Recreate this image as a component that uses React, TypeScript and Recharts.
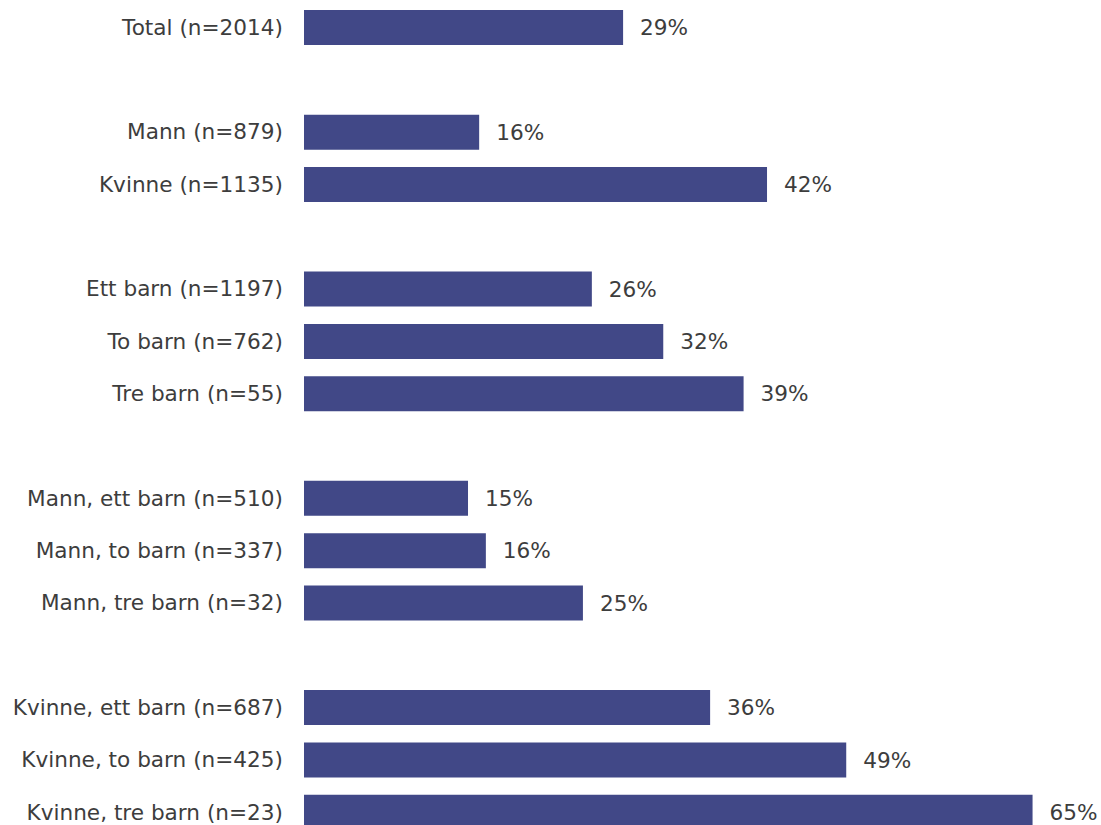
import React from "react";
import { BarChart, Bar, XAxis, YAxis, LabelList } from "recharts";

const categories: string[] = [
  "Total (n=2014)",
  "",
  "Mann (n=879)",
  "Kvinne (n=1135)",
  " ",
  "Ett barn (n=1197)",
  "To barn (n=762)",
  "Tre barn (n=55)",
  "  ",
  "Mann, ett barn (n=510)",
  "Mann, to barn (n=337)",
  "Mann, tre barn (n=32)",
  "   ",
  "Kvinne, ett barn (n=687)",
  "Kvinne, to barn (n=425)",
  "Kvinne, tre barn (n=23)",
];

const values: (number | null)[] = [
  28.6, null, 15.7, 41.5, null, 25.8, 32.2, 39.4, null, 14.7, 16.3, 25.0, null, 36.4, 48.6, 65.3,
];

const labels: string[] = [
  "29%", "", "16%", "42%", "", "26%", "32%", "39%", "", "15%", "16%", "25%", "", "36%", "49%", "65%",
];

const data = categories.map((c, i) => ({ name: c, value: values[i], label: labels[i] }));

const FONT = "'DejaVu Sans', Verdana, sans-serif";
const TEXT = "#3d3d3d";
const BAR = "#414887";

export default function App() {
  return (
    <div style={{ position: "absolute", left: 0, top: 0 }}>
      <BarChart
        width={1101}
        height={838}
        data={data}
        layout="vertical"
        margin={{ top: 1, right: 16, bottom: 0, left: 0 }}
        barSize={35}
      >
        <XAxis type="number" domain={[0, 70]} hide />
        <YAxis
          type="category"
          dataKey="name"
          width={304}
          axisLine={false}
          tickLine={false}
          tickMargin={15}
          interval={0}
          tick={{ fill: TEXT, fontSize: 21.6, fontFamily: FONT }}
        />
        <Bar dataKey="value" fill={BAR} isAnimationActive={false}>
          <LabelList
            dataKey="label"
            position="right"
            offset={17}
            style={{ fill: TEXT, fontSize: 21.6, fontFamily: FONT }}
          />
        </Bar>
      </BarChart>
    </div>
  );
}
